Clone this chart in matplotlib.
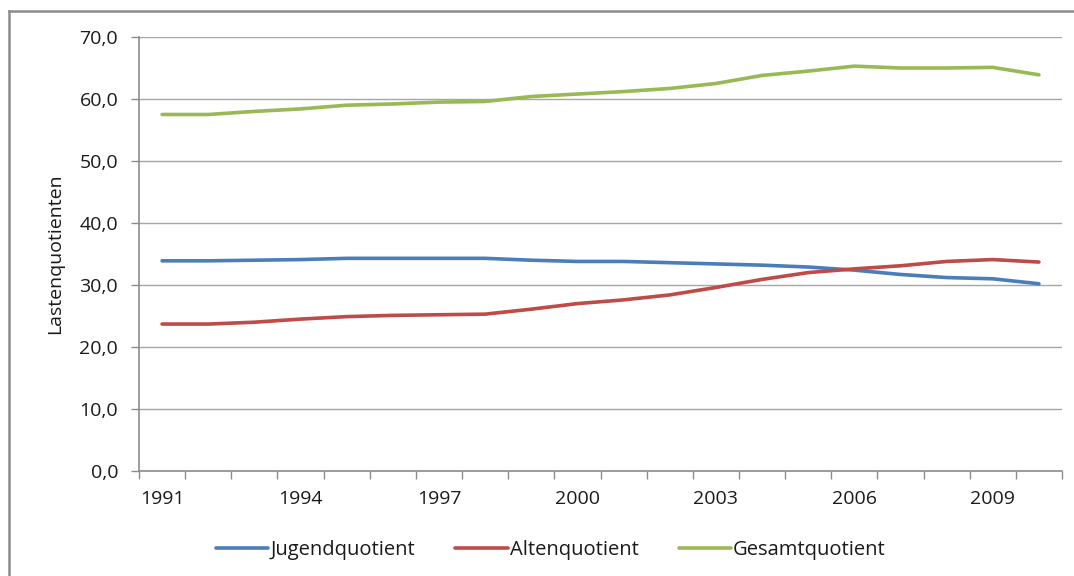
import numpy as np
import matplotlib.pyplot as plt
from matplotlib.lines import Line2D

plt.rcParams['font.family'] = ['Open Sans', 'DejaVu Sans']

## Data
years = list(range(1991, 2011))
jugend = [33.9, 33.9, 34.0, 34.1, 34.3, 34.3, 34.3, 34.3, 34.0, 33.8,
          33.8, 33.6, 33.4, 33.2, 32.9, 32.4, 31.7, 31.2, 31.0, 30.2]
alten = [23.7, 23.7, 24.0, 24.5, 24.9, 25.1, 25.2, 25.3, 26.1, 27.0,
         27.6, 28.4, 29.6, 30.9, 32.0, 32.6, 33.1, 33.8, 34.1, 33.7]
gesamt = [57.5, 57.5, 58.0, 58.4, 59.0, 59.2, 59.5, 59.6, 60.4, 60.8,
          61.2, 61.7, 62.5, 63.8, 64.5, 65.3, 65.0, 65.0, 65.1, 63.9]
labels = ["Jugendquotient", "Altenquotient", "Gesamtquotient"]
colors = ["#4a7ebb", "#be4b48", "#98b954"]

W, H = 1074, 576
fig = plt.figure(figsize=(W / 100, H / 100), dpi=100)
ax = fig.add_axes([139 / W, 1 - 471 / H, (1062 - 139) / W, (471 - 37) / H])

x = np.arange(len(years))
for vals, lab, col in zip([jugend, alten, gesamt], labels, colors):
    ax.plot(x, vals, color=col, lw=2.6, label=lab, solid_capstyle='round')

# Axes
ax.set_xlim(-0.5, len(years) - 0.5)
ax.set_ylim(0, 70)
ax.set_yticks(np.arange(0, 71, 10))
ax.set_yticklabels([f"{v:.1f}".replace(".", ",") for v in range(0, 71, 10)])
ax.set_xticks(x[::3])
ax.set_xticklabels([str(y) for y in years[::3]])
ax.set_xticks(np.arange(-0.5, len(years), 1), minor=True)
ax.tick_params(axis='x', which='major', length=0, pad=14, labelsize=14, colors='#1a1a1a')
ax.tick_params(axis='x', which='minor', length=6, width=1, color='#8c8c8c')
ax.tick_params(axis='y', length=6, width=1, color='#8c8c8c', pad=9, labelsize=14, labelcolor='#1a1a1a')

ax.grid(axis='y', color='#a6a6a6', lw=1)
ax.set_axisbelow(True)
for s in ['top', 'right']:
    ax.spines[s].set_visible(False)
for s in ['left', 'bottom']:
    ax.spines[s].set_color('#8c8c8c')
    ax.spines[s].set_linewidth(1.2)

ax.set_ylabel("Lastenquotienten", fontsize=14, color='#1a1a1a')
ax.yaxis.set_label_coords(-(139 - 64) / (1062 - 139), 0.5)

# Legend
fig.legend(loc='center', bbox_to_anchor=(0.513, 1 - 550 / H), ncol=3, frameon=False,
           fontsize=14.5, handlelength=2.6, handletextpad=0.1, columnspacing=2.0,
           labelcolor='#1a1a1a')

# Outer chart frame (left and top edges visible)
fig.add_artist(Line2D([9 / W, 9 / W], [0, 1 - 11 / H], color='#8c8c8c', lw=1.8,
                      transform=fig.transFigure))
fig.add_artist(Line2D([9 / W, 1], [1 - 11 / H, 1 - 11 / H], color='#8c8c8c', lw=1.8,
                      transform=fig.transFigure))

fig.savefig("out.png", dpi=100)
